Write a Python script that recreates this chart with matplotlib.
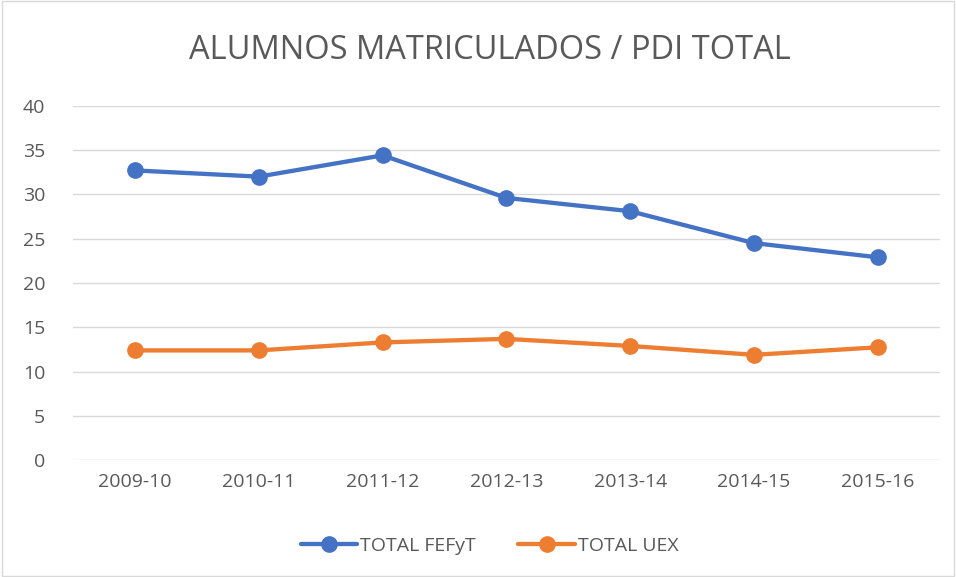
import matplotlib
matplotlib.use('Agg')
import matplotlib.pyplot as plt
from matplotlib.patches import Rectangle

# data
cursos = ['2009-10', '2010-11', '2011-12', '2012-13', '2013-14', '2014-15', '2015-16']
total_fefyt = [32.7, 32.0, 34.4, 29.6, 28.1, 24.5, 22.9]
total_uex = [12.4, 12.4, 13.3, 13.7, 12.9, 11.9, 12.75]

gris = '#595959'
plt.rcParams['font.family'] = ['Open Sans', 'DejaVu Sans']

fig = plt.figure(figsize=(9.56, 5.77), dpi=100)
fig.patches.append(Rectangle((0.002, 0.002), 0.996, 0.996, transform=fig.transFigure,
                             fill=False, edgecolor='#d9d9d9', linewidth=1))
ax = fig.add_axes([0.0764, 0.2022, 0.9066, 0.6146])

x = list(range(len(cursos)))
ax.plot(x, total_fefyt, color='#4472c4', linewidth=3.1, marker='o', markersize=11,
        label='TOTAL FEFyT', solid_capstyle='round')
ax.plot(x, total_uex, color='#ed7d31', linewidth=3.1, marker='o', markersize=11,
        label='TOTAL UEX', solid_capstyle='round')

ax.set_xlim(-0.5, len(cursos) - 0.5)
ax.set_ylim(0, 40)
ax.set_yticks(range(0, 41, 5))
ax.set_xticks(x)
ax.set_xticklabels(cursos)
ax.grid(axis='y', color='#d9d9d9', linewidth=1)
ax.set_axisbelow(True)
for s in ax.spines.values():
    s.set_visible(False)
ax.tick_params(length=0, labelsize=14, colors=gris, pad=9)
ax.tick_params(axis='y', pad=20)

fig.text(0.512, 0.912, 'ALUMNOS MATRICULADOS / PDI TOTAL', ha='center', va='center',
         fontsize=23.5, color=gris)

leg = fig.legend(loc='center', bbox_to_anchor=(0.512, 0.054), ncol=2, frameon=False,
                 fontsize=14, handlelength=2.9, columnspacing=2.2, handletextpad=0.15)
for t in leg.get_texts():
    t.set_color(gris)

fig.savefig('out.png', dpi=100)
